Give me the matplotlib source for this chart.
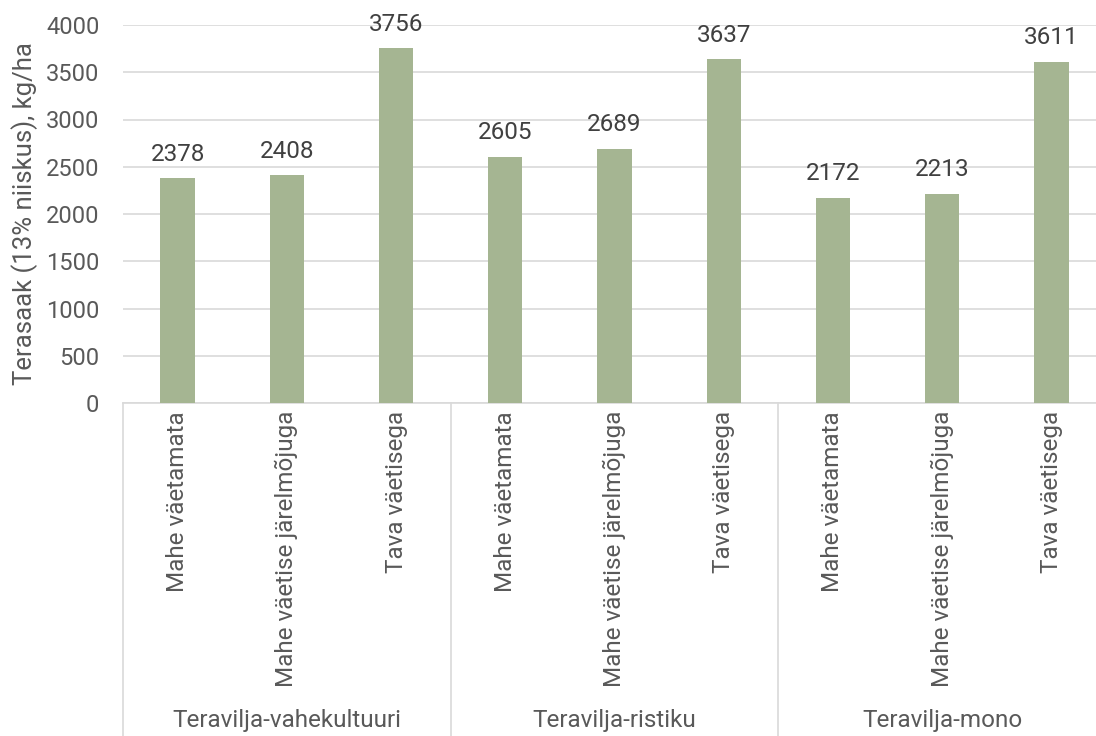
import matplotlib
matplotlib.use('Agg')
import matplotlib.pyplot as plt
import matplotlib.transforms as mtransforms

plt.rcParams['font.family'] = ['Roboto', 'DejaVu Sans']

GROUPS = ['Teravilja-vahekultuuri', 'Teravilja-ristiku', 'Teravilja-mono']
TREATMENTS = ['Mahe väetamata', 'Mahe väetise järelmõjuga', 'Tava väetisega']
YIELDS = [2378, 2408, 3756,
          2605, 2689, 3637,
          2172, 2213, 3611]

BAR = '#a5b592'
GRID = '#d9d9d9'
TEXT = '#595959'
LABEL = '#404040'
FS = 17.5

W, H = 1096, 736
fig = plt.figure(figsize=(W / 100, H / 100), dpi=100)
# plot area runs slightly past the right edge, as in the original crop
ax = fig.add_axes([123 / W, (H - 403) / H, 983 / W, 378 / H])

n = len(YIELDS)
xs = list(range(n))
ax.bar(xs, YIELDS, width=0.315, color=BAR, zorder=3)
for x, v in zip(xs, YIELDS):
    ax.annotate(str(v), (x, v), xytext=(0, 9), textcoords='offset points',
                ha='center', va='bottom', fontsize=FS, color=LABEL)

ax.set_xlim(-0.5, n - 0.5)
ax.set_ylim(0, 4000)
ax.set_yticks(range(0, 4001, 500))
ax.tick_params(axis='y', length=0, labelsize=17, colors=TEXT, pad=17)
ax.set_xticks([])
ax.yaxis.grid(True, color=GRID, lw=1.2)
ax.set_axisbelow(True)
for s in ['top', 'right', 'left']:
    ax.spines[s].set_visible(False)
ax.spines['bottom'].set_color(GRID)
ax.spines['bottom'].set_linewidth(1.2)
ax.set_ylabel('Terasaak (13% niiskus), kg/ha', fontsize=18.5, color=TEXT,
              labelpad=6)

# two-level category axis
trans = mtransforms.blended_transform_factory(ax.transData, ax.transAxes)
bottom = -(H - 403) / 378
for b in [-0.5, 2.5, 5.5, 8.5]:
    ax.plot([b, b], [0, bottom], transform=trans, color=GRID, lw=1.2,
            clip_on=False)
for i, x in enumerate(xs):
    ax.text(x, -8 / 378, TREATMENTS[i % 3], transform=trans, rotation=90,
            ha='center', va='top', fontsize=FS, color=TEXT)
for g, name in enumerate(GROUPS):
    ax.text(3 * g + 1, -(721 - 403) / 378, name, transform=trans,
            ha='center', va='center', fontsize=FS, color=TEXT)

fig.savefig('out.png', dpi=100)
